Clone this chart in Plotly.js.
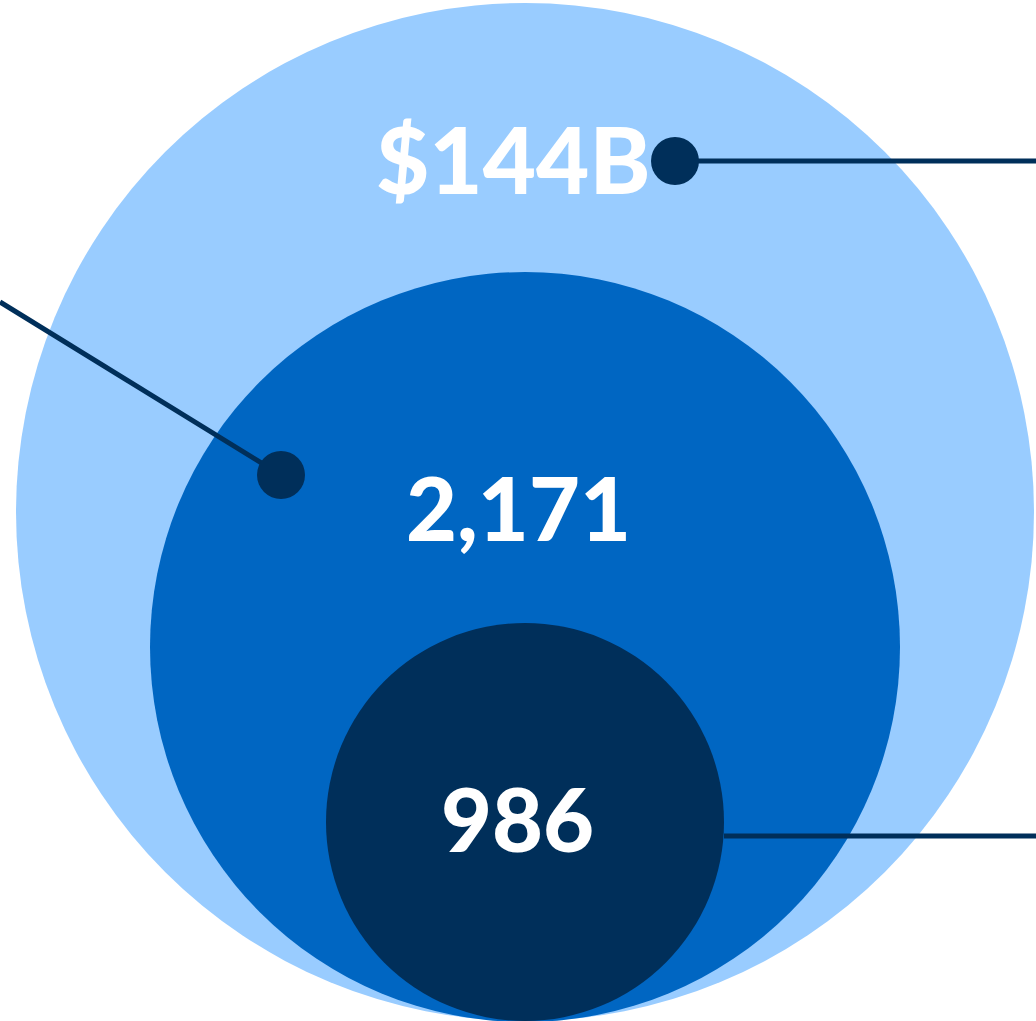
<!DOCTYPE html>
<html>
<head>
<meta charset="utf-8">
<script src="https://cdn.plot.ly/plotly-3.0.1.min.js"></script>
<style>html,body{margin:0;padding:0;background:#fff;}#chart{width:1036px;height:1021px;}</style>
</head>
<body>
<div id="chart"></div>
<script>
// Data
const categories = ['Total value', 'Count', 'Subset count'];
const valueLabels = ['$144B', '2,171', '986'];

// Layout geometry (pixel-like coordinate space)
const circles = [
  {cx: 525, cy: 512, r: 509, color: '#99CCFF'},
  {cx: 525, cy: 647, r: 375, color: '#0066C2'},
  {cx: 525, cy: 822, r: 199, color: '#002F5A'}
];
const labelPos = [[513, 158], [518, 507], [517, 818]];
const labelSizes = [92, 88, 88];
const leaders = [
  {x: [675, 1036], y: [161, 161], dot: 0},
  {x: [281, 0], y: [475, 302], dot: 0},
  {x: [724, 1036], y: [836, 836], dot: null}
];
const lineColor = '#002F5A';

const shapes = circles.map(c => ({
  type: 'circle', xref: 'x', yref: 'y',
  x0: c.cx - c.r, x1: c.cx + c.r, y0: c.cy - c.r, y1: c.cy + c.r,
  fillcolor: c.color, line: {width: 0}, layer: 'below'
}));

const traces = [];
leaders.forEach(l => {
  traces.push({x: l.x, y: l.y, mode: 'lines', line: {color: lineColor, width: 5}, hoverinfo: 'skip', showlegend: false});
  if (l.dot !== null) {
    traces.push({x: [l.x[l.dot]], y: [l.y[l.dot]], mode: 'markers', marker: {color: lineColor, size: 48}, hoverinfo: 'skip', showlegend: false});
  }
});

const annotations = valueLabels.map((t, i) => ({
  x: labelPos[i][0], y: labelPos[i][1], xref: 'x', yref: 'y',
  text: t, showarrow: false, xanchor: 'center', yanchor: 'middle',
  font: {family: 'Lato', size: labelSizes[i], color: '#FFFFFF', weight: 900}
}));

const layout = {
  width: 1036, height: 1021,
  margin: {l: 0, r: 0, t: 0, b: 0, pad: 0},
  paper_bgcolor: '#FFFFFF', plot_bgcolor: '#FFFFFF',
  xaxis: {range: [0, 1036], visible: false, fixedrange: true},
  yaxis: {range: [1021, 0], visible: false, fixedrange: true},
  shapes: shapes,
  annotations: annotations,
  showlegend: false
};

Plotly.newPlot('chart', traces, layout, {displayModeBar: false, staticPlot: true});
</script>
</body>
</html>
